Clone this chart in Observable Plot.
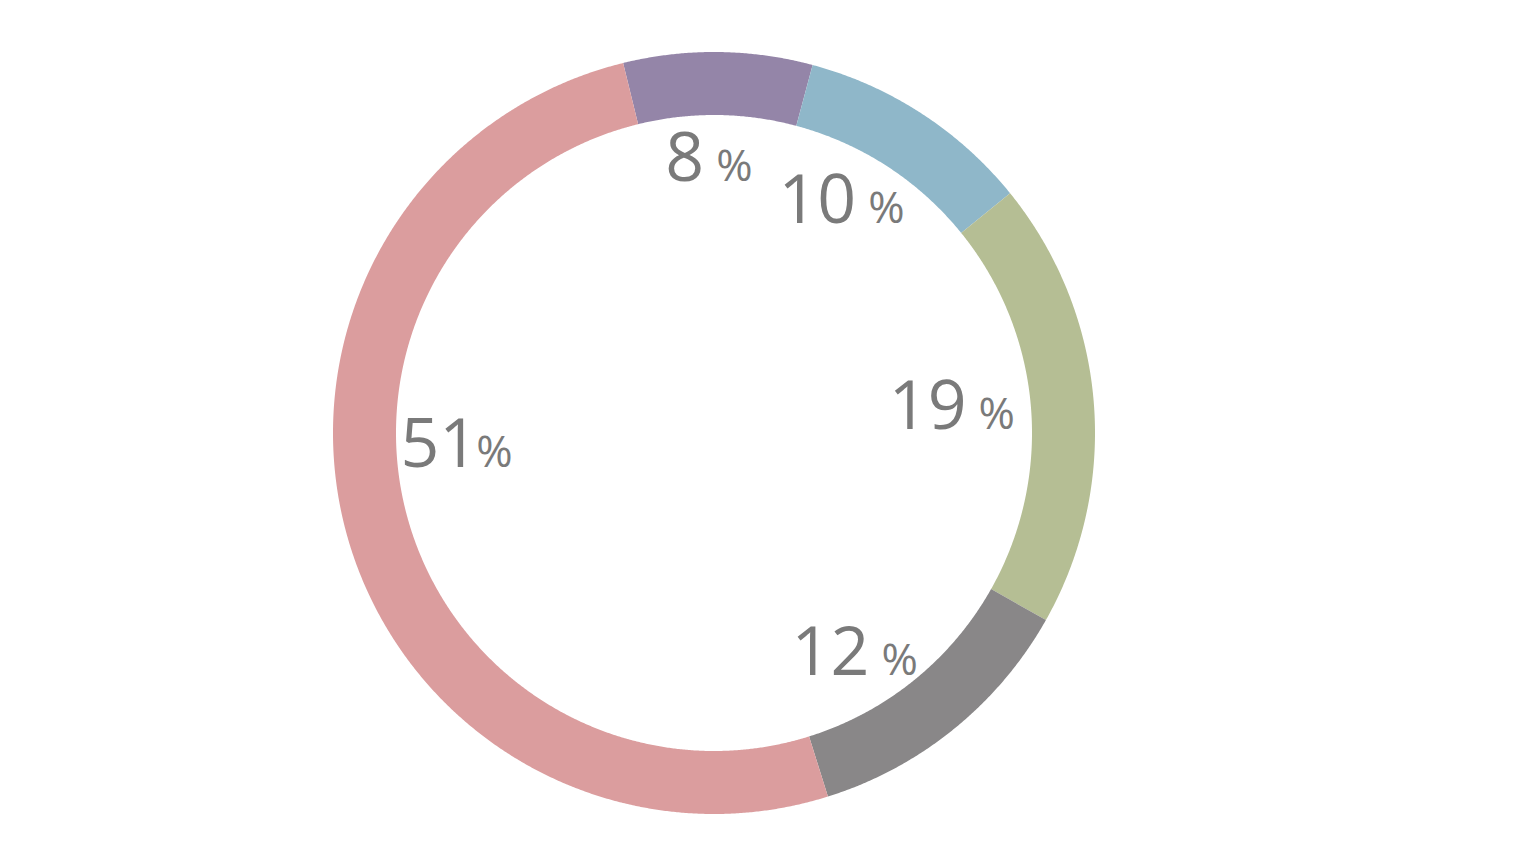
<!DOCTYPE html>
<html>
<head>
<meta charset="utf-8">
<script src="https://cdn.jsdelivr.net/npm/d3@7"></script>
<script src="https://cdn.jsdelivr.net/npm/@observablehq/plot@0.6"></script>
<style>
  html, body { margin: 0; padding: 0; background: #ffffff; }
  #chart { width: 1540px; height: 866px; }
</style>
</head>
<body>
<div id="chart"></div>
<script>
// ---- data ----
const categories = ["A", "B", "C", "D", "E"];
const values = [8, 10, 19, 12, 51];
const labels = ["8", "10", "19", "12", "51"];
const colors = ["#9485a8", "#8fb7c9", "#b5be94", "#898788", "#db9d9e"];

// ---- styling ----
const startAngle = -13.8 * Math.PI / 180;
const rOuter = 381, rInner = 318, rLabel = 262;
// label nudges in px (dx, dy screen) from slice centroid to number/percent gap at baseline
const nudges = [[-6, 9], [6, 9], [-2, 17], [-3, 38], [12, -37]];

const pie = d3.pie().sort(null).value(d => d.value)
  .startAngle(startAngle).endAngle(startAngle + 2 * Math.PI);
const arcs = pie(categories.map((c, i) => ({cat: c, value: values[i], label: labels[i]})));

// ring points (angle clockwise from top; y up)
const ring = [];
for (const a of arcs) {
  const n = Math.max(2, Math.ceil((a.endAngle - a.startAngle) / (0.25 * Math.PI / 180)));
  for (let k = 0; k <= n; k++) {
    const t = a.startAngle + (a.endAngle - a.startAngle) * k / n;
    ring.push({
      cat: a.data.cat,
      xo: rOuter * Math.sin(t), yo: rOuter * Math.cos(t),
      xi: rInner * Math.sin(t), yi: rInner * Math.cos(t)
    });
  }
}

const lab = arcs.map((a, i) => {
  const m = (a.startAngle + a.endAngle) / 2;
  return {
    label: a.data.label,
    x: rLabel * Math.sin(m) + nudges[i][0],
    y: rLabel * Math.cos(m) - nudges[i][1],
    tight: i === 4
  };
});

const numStyle = {textAnchor: "end", lineAnchor: "bottom", fontSize: 68, fill: "#7a7a7a",
  fontFamily: "Open Sans", letterSpacing: -8};
const pctStyle = {textAnchor: "start", lineAnchor: "bottom", fontSize: 44, fill: "#7a7a7a",
  fontFamily: "Open Sans"};

const chart = Plot.plot({
  width: 1540,
  height: 866,
  margin: 0,
  x: {domain: [-714, 826], axis: null},
  y: {domain: [-433, 433], axis: null},
  color: {domain: categories, range: colors},
  style: {background: "#ffffff"},
  marks: [
    Plot.area(ring, {x1: "xi", y1: "yi", x2: "xo", y2: "yo", z: "cat", fill: "cat", curve: "linear"}),
    Plot.text(lab.filter(d => !d.tight), {x: "x", y: "y", text: "label", dx: -7, ...numStyle}),
    Plot.text(lab.filter(d => d.tight), {x: "x", y: "y", text: "label", dx: 4, ...numStyle}),
    Plot.text(lab.filter(d => !d.tight), {x: "x", y: "y", text: () => "%", dx: 5, ...pctStyle}),
    Plot.text(lab.filter(d => d.tight), {x: "x", y: "y", text: () => "%", dx: 2, ...pctStyle})
  ]
});
document.getElementById("chart").appendChild(chart);
</script>
</body>
</html>
